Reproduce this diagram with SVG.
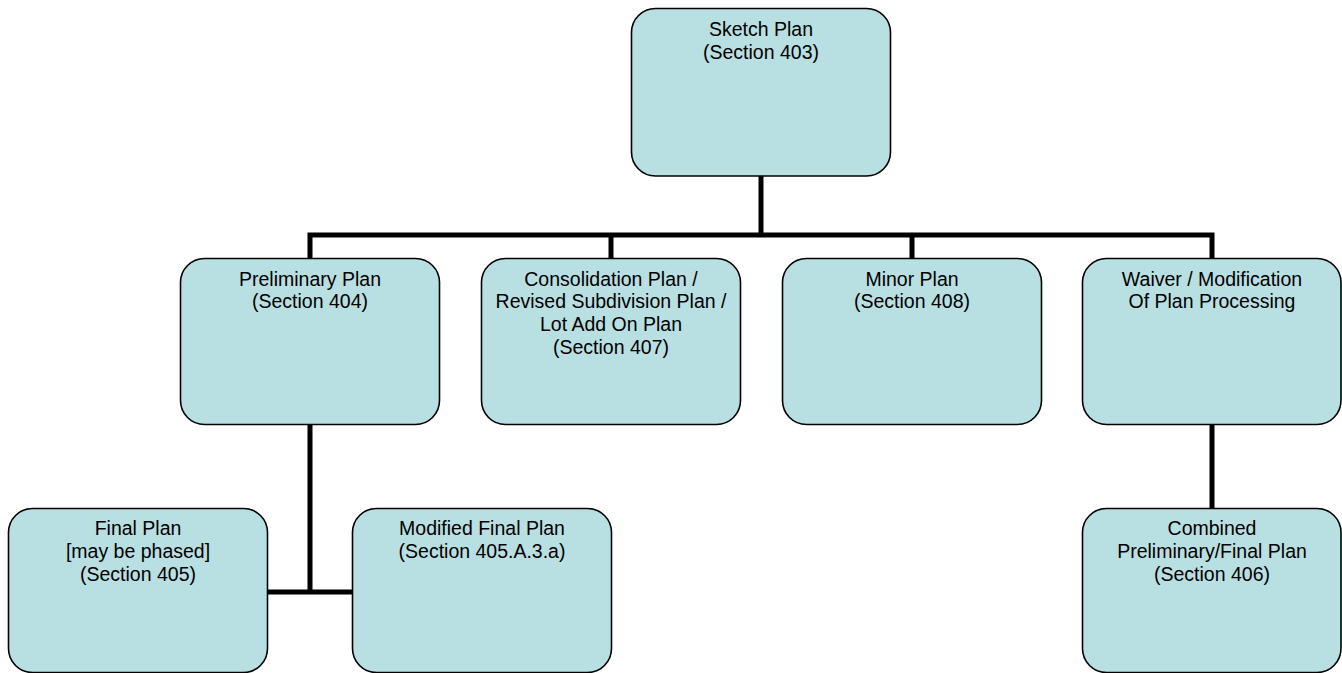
<svg xmlns="http://www.w3.org/2000/svg" width="1342" height="673" viewBox="0 0 1342 673">
<style>
.box{fill:#B8DFE2;stroke:#000;stroke-width:1.6}
.t{font-family:"Liberation Sans",Arial,sans-serif;font-size:19.5px;fill:#000;text-anchor:middle}
.c{fill:none;stroke:#000;stroke-width:5;stroke-linecap:butt;stroke-linejoin:miter}
</style>
<rect width="1342" height="673" fill="#fff"/>
<g id="connectors">
<path class="c" d="M761,176 V235"/>
<path class="c" d="M310,258 V235 H1212 V258"/>
<path class="c" d="M611,235 V258"/>
<path class="c" d="M912,235 V258"/>
<path class="c" d="M310,425 V592"/>
<path class="c" d="M267,592 H352"/>
<path class="c" d="M1212,425 V508"/>
</g>
<g id="sketch">
<rect class="box" x="631.5" y="8.5" width="259" height="167.5" rx="24"/>
<text class="t" x="761" y="36">Sketch Plan</text>
<text class="t" x="761" y="58.7">(Section 403)</text>
</g>
<g id="preliminary">
<rect class="box" x="180.5" y="258.5" width="259" height="166" rx="24"/>
<text class="t" x="310" y="285.5">Preliminary Plan</text>
<text class="t" x="310" y="308.2">(Section 404)</text>
</g>
<g id="consolidation">
<rect class="box" x="481.5" y="258.5" width="259" height="166" rx="24"/>
<text class="t" x="611" y="285.5">Consolidation Plan /</text>
<text class="t" x="611" y="308.2">Revised Subdivision Plan /</text>
<text class="t" x="611" y="330.9">Lot Add On Plan</text>
<text class="t" x="611" y="353.6">(Section 407)</text>
</g>
<g id="minor">
<rect class="box" x="782.5" y="258.5" width="259" height="166" rx="24"/>
<text class="t" x="912" y="285.5">Minor Plan</text>
<text class="t" x="912" y="308.2">(Section 408)</text>
</g>
<g id="waiver">
<rect class="box" x="1082.5" y="258.5" width="258.5" height="166" rx="24"/>
<text class="t" x="1212" y="285.5">Waiver / Modification</text>
<text class="t" x="1212" y="308.2">Of Plan Processing</text>
</g>
<g id="final">
<rect class="box" x="8.5" y="508.5" width="259" height="164" rx="24"/>
<text class="t" x="138" y="535.2">Final Plan</text>
<text class="t" x="138" y="557.9">[may be phased]</text>
<text class="t" x="138" y="580.6">(Section 405)</text>
</g>
<g id="modified">
<rect class="box" x="352.5" y="508.5" width="259" height="164" rx="24"/>
<text class="t" x="482" y="535.2">Modified Final Plan</text>
<text class="t" x="482" y="557.9">(Section 405.A.3.a)</text>
</g>
<g id="combined">
<rect class="box" x="1082.5" y="508.5" width="258.5" height="164" rx="24"/>
<text class="t" x="1212" y="535.2">Combined</text>
<text class="t" x="1212" y="557.9">Preliminary/Final Plan</text>
<text class="t" x="1212" y="580.6">(Section 406)</text>
</g>
</svg>
